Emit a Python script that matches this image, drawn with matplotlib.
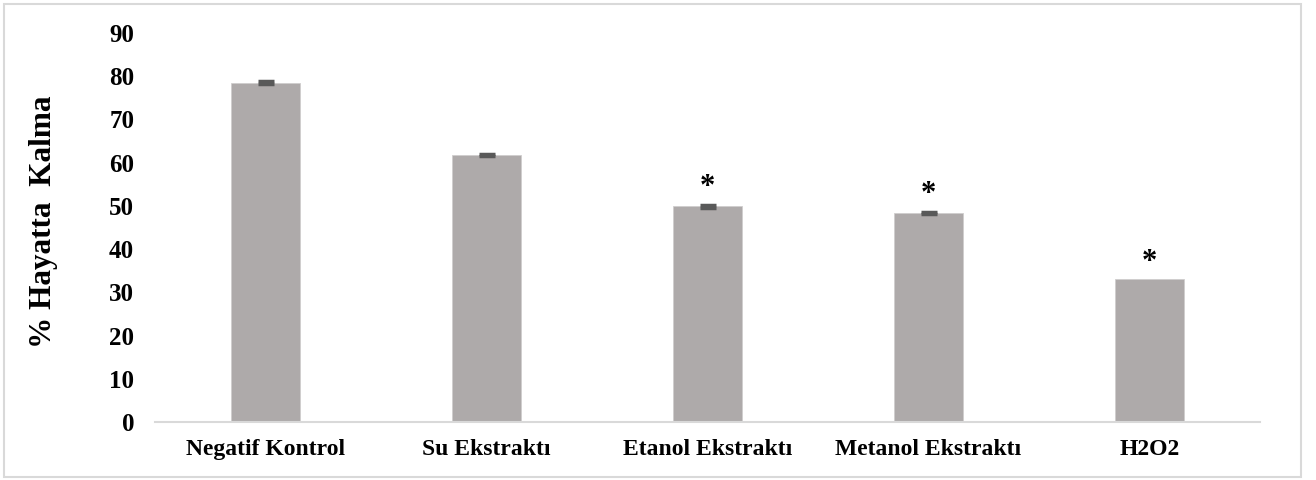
import matplotlib
matplotlib.use("Agg")
import matplotlib.pyplot as plt
from matplotlib.patches import Rectangle

categories = ["Negatif Kontrol", "Su Ekstraktı", "Etanol Ekstraktı", "Metanol Ekstraktı", "H2O2"]
values = [78.5, 61.8, 49.9, 48.4, 33.0]
errors = [0.35, 0.25, 0.3, 0.3, 0.0]
significant = [False, False, True, True, True]
yticks = [0, 10, 20, 30, 40, 50, 60, 70, 80, 90]

plt.rcParams["font.family"] = ["Liberation Serif", "DejaVu Serif"]
plt.rcParams["font.weight"] = "bold"

fig = plt.figure(figsize=(13.16, 4.8), dpi=100)
fig.patches.append(Rectangle((4 / 1316, 3 / 480), 1297 / 1316, 473 / 480,
                             transform=fig.transFigure, fill=False,
                             edgecolor="#d9d9d9", linewidth=1.5))

ax = fig.add_axes([155 / 1316, 1 - 422 / 480, 1105 / 1316, (422 - 33) / 480])
x = list(range(len(categories)))
ax.bar(x, values, width=0.31, color="#aeaaaa", edgecolor="#d0cece", linewidth=0.6, zorder=2)
ex = [xi for xi, e in zip(x, errors) if e > 0]
ev = [v for v, e in zip(values, errors) if e > 0]
ee = [e for e in errors if e > 0]
ax.errorbar(ex, ev, yerr=ee, fmt="none", ecolor="#595959",
            elinewidth=1.0, capsize=6, capthick=2.5, zorder=3)
for xi, v, e, s in zip(x, values, errors, significant):
    if s:
        ax.text(xi, v + e + 0.6, "*", ha="center", va="bottom", fontsize=22,
                fontweight="bold")

ax.set_xlim(-0.5, len(categories) - 0.5)
ax.set_ylim(0, 90)
ax.set_yticks(yticks)
ax.set_yticklabels([str(t) for t in yticks], fontsize=18, fontweight="bold")
ax.set_xticks(x)
ax.set_xticklabels(categories, fontsize=17, fontweight="bold")
ax.tick_params(axis="both", length=0)
ax.tick_params(axis="y", pad=15)
ax.tick_params(axis="x", pad=12)
for side in ["top", "right", "left"]:
    ax.spines[side].set_visible(False)
ax.spines["bottom"].set_color("#d9d9d9")
ax.spines["bottom"].set_linewidth(1.5)
ax.set_ylabel("% Hayatta  Kalma", fontsize=22.5, fontweight="bold")
ax.yaxis.set_label_coords(-97 / 1105, 0.514)

fig.savefig("out.png", dpi=100)
